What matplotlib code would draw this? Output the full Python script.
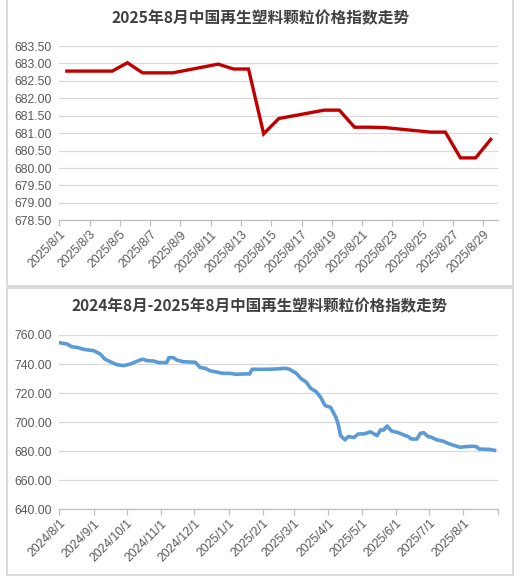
import pandas as pd
import matplotlib
matplotlib.use("Agg")
import matplotlib.pyplot as plt
import matplotlib.dates as mdates
from matplotlib.patches import Rectangle

plt.rcParams['font.family'] = ['Noto Sans CJK SC', 'DejaVu Sans']

# August 2025 daily index
aug_dates = ["2025-08-01", "2025-08-04", "2025-08-05", "2025-08-06", "2025-08-07",
             "2025-08-08", "2025-08-11", "2025-08-12", "2025-08-13", "2025-08-14",
             "2025-08-15", "2025-08-18", "2025-08-19", "2025-08-20", "2025-08-21",
             "2025-08-22", "2025-08-25", "2025-08-26", "2025-08-27", "2025-08-28",
             "2025-08-29"]
aug_values = [682.78, 682.78, 683.02, 682.73, 682.73,
              682.73, 682.98, 682.84, 682.84, 680.98,
              681.42, 681.66, 681.66, 681.17, 681.17,
              681.16, 681.03, 681.03, 680.29, 680.29,
              680.82]

# Aug 2024 - Aug 2025 index
year_dates = ["2024-08-01", "2024-08-08", "2024-08-12", "2024-08-18", "2024-08-23",
              "2024-09-01", "2024-09-07", "2024-09-11", "2024-09-17", "2024-09-22",
              "2024-09-28", "2024-10-04", "2024-10-08", "2024-10-13", "2024-10-16",
              "2024-10-19", "2024-10-25", "2024-10-30", "2024-11-06", "2024-11-08",
              "2024-11-12", "2024-11-15", "2024-11-21", "2024-12-02", "2024-12-06",
              "2024-12-11", "2024-12-15", "2024-12-21", "2024-12-27", "2025-01-02",
              "2025-01-08", "2025-01-14", "2025-01-20", "2025-01-22", "2025-02-04",
              "2025-02-13", "2025-02-21", "2025-02-25", "2025-03-03", "2025-03-08",
              "2025-03-12", "2025-03-16", "2025-03-21", "2025-03-25", "2025-03-29",
              "2025-04-03", "2025-04-08", "2025-04-10", "2025-04-12", "2025-04-16",
              "2025-04-19", "2025-04-24", "2025-04-28", "2025-05-03", "2025-05-09",
              "2025-05-15", "2025-05-18", "2025-05-21", "2025-05-24", "2025-05-28",
              "2025-06-03", "2025-06-08", "2025-06-12", "2025-06-15", "2025-06-20",
              "2025-06-23", "2025-06-26", "2025-06-30", "2025-07-03", "2025-07-08",
              "2025-07-14", "2025-07-18", "2025-07-23", "2025-07-29", "2025-08-04",
              "2025-08-10", "2025-08-13", "2025-08-15", "2025-08-25", "2025-08-29"]
year_values = [754.7, 753.8, 752.0, 751.3, 750.1,
               749.2, 746.9, 743.5, 741.2, 739.6,
               738.9, 740.0, 741.2, 742.8, 743.3,
               742.3, 742.1, 741.0, 741.0, 744.4,
               744.4, 742.8, 741.6, 741.2, 737.7,
               737.0, 735.4, 734.5, 733.6, 733.6,
               732.9, 733.2, 733.2, 736.4, 736.4,
               736.6, 737.1, 736.4, 733.6, 729.5,
               727.6, 723.3, 721.0, 717.1, 711.4,
               710.2, 703.1, 698.1, 690.7, 687.8,
               690.1, 689.4, 691.9, 691.9, 693.3,
               690.7, 694.6, 694.6, 697.4, 693.9,
               692.8, 691.2, 690.1, 688.4, 688.4,
               692.3, 692.8, 690.1, 689.6, 687.8,
               686.8, 685.4, 684.1, 682.7, 683.2,
               683.4, 683.0, 681.5, 681.2, 680.6]

title_top = "2025年8月中国再生塑料颗粒价格指数走势"
title_bottom = "2024年8月-2025年8月中国再生塑料颗粒价格指数走势"

TICK_COLOR = "#595959"
GRID_COLOR = "#d9d9d9"


def style_axis(ax, ylo, yhi, ystep):
    ax.set_ylim(ylo, yhi)
    n = int(round((yhi - ylo) / ystep))
    yt = [ylo + i * ystep for i in range(n + 1)]
    ax.set_yticks(yt)
    ax.set_yticklabels([f"{v:.2f}" for v in yt], family='Liberation Sans',
                       fontsize=8.7, color=TICK_COLOR)
    ax.grid(axis='y', color=GRID_COLOR, linewidth=0.9)
    ax.set_axisbelow(True)
    for s in ['top', 'right', 'left']:
        ax.spines[s].set_visible(False)
    ax.spines['bottom'].set_color("#bfbfbf")
    ax.spines['bottom'].set_linewidth(0.9)
    ax.tick_params(axis='y', length=0, pad=5.5)
    ax.tick_params(axis='x', length=4, color="#bfbfbf", width=0.9, pad=2)


fig = plt.figure(figsize=(5.24, 5.80), dpi=100)

# panel frames like the spreadsheet chart boxes
fig.patches.append(Rectangle((7 / 524, 1 - 286 / 580), 506 / 524, 290 / 580,
                             transform=fig.transFigure, fill=False,
                             edgecolor="#d9d9d9", linewidth=1.3))
fig.patches.append(Rectangle((7 / 524, 1 - 575 / 580), 506 / 524, 287 / 580,
                             transform=fig.transFigure, fill=False,
                             edgecolor="#d9d9d9", linewidth=1.3))

# ---- top chart: August 2025
ax1 = fig.add_axes([59.3 / 524, 1 - 220.3 / 580, 439 / 524, 174.3 / 580])
x1 = pd.to_datetime(aug_dates) + pd.Timedelta(hours=12)
ax1.plot(x1, aug_values, color="#c00000", linewidth=2.4, solid_joinstyle='miter')
style_axis(ax1, 678.5, 683.5, 0.5)
ax1.set_xlim(pd.Timestamp("2025-08-01"), pd.Timestamp("2025-08-30"))
t1 = pd.date_range("2025-08-01", "2025-08-29", freq="2D")
ax1.set_xticks(t1)
ax1.set_xticklabels([f"{d.year}/{d.month}/{d.day}" for d in t1], rotation=45,
                    ha='right', va='top', rotation_mode='anchor',
                    family='Liberation Sans', fontsize=8.7, color=TICK_COLOR)
fig.text(0.497, 1 - 18 / 580, title_top, ha='center', va='center',
         fontsize=11.3, fontweight='bold', color="#404040")

# ---- bottom chart: Aug 2024 - Aug 2025
ax2 = fig.add_axes([59.3 / 524, 1 - 509.3 / 580, 438.5 / 524, 174.3 / 580])
x2 = pd.to_datetime(year_dates)
ax2.plot(x2, year_values, color="#5b9bd5", linewidth=2.6)
style_axis(ax2, 640, 760, 20)
ax2.set_xlim(pd.Timestamp("2024-08-01"), pd.Timestamp("2025-09-01"))
t2 = pd.date_range("2024-08-01", "2025-09-01", freq="MS")
ax2.set_xticks(t2)
lab2 = [f"{d.year}/{d.month}/{d.day}" for d in t2]
lab2[-1] = ""
ax2.set_xticklabels(lab2, rotation=45, ha='right', va='top', rotation_mode='anchor',
                    family='Liberation Sans', fontsize=8.7, color=TICK_COLOR)
fig.text(0.496, 1 - 306.5 / 580, title_bottom, ha='center', va='center',
         fontsize=11.2, fontweight='bold', color="#404040")

fig.savefig("out.png", dpi=100, facecolor='white')
